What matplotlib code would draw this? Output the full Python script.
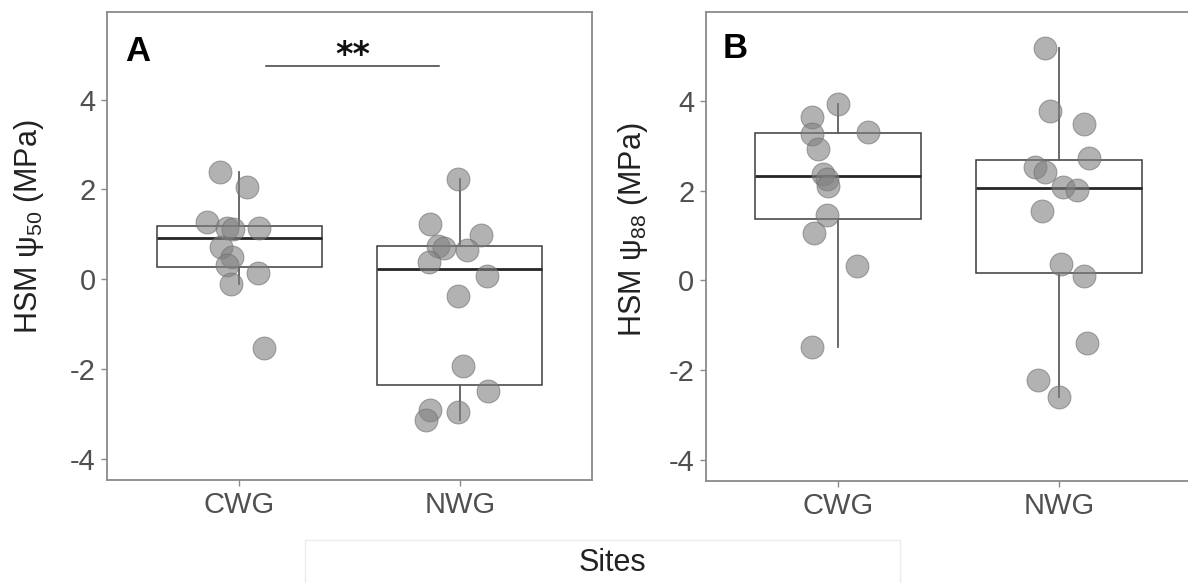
import matplotlib
matplotlib.use("Agg")
import matplotlib.pyplot as plt
from matplotlib.lines import Line2D

plt.rcParams['font.family'] = ['Liberation Sans', 'DejaVu Sans']
plt.rcParams['mathtext.fontset'] = 'custom'
plt.rcParams['mathtext.rm'] = 'Liberation Sans'

# ---- data -------------------------------------------------------------
sites = ['CWG', 'NWG']
y_ticks = [-4, -2, 0, 2, 4]

# Hydraulic safety margin based on psi50 (MPa)
hsm50_cwg = [2.38, 2.05, 1.28, 1.14, 1.12, 1.13, 0.72, 0.50, 0.31, 0.13, -0.10, -1.54]
hsm50_nwg = [2.24, 1.24, 0.99, 0.74, 0.70, 0.64, 0.38, 0.07, -0.37, -1.93, -2.49,
             -2.91, -3.13, -2.95]
# horizontal jitter of each point (in category units)
jit50_cwg = [-0.087, 0.037, -0.145, -0.057, -0.030, 0.090, -0.084, -0.031, -0.054,
             0.083, -0.039, 0.110]
jit50_nwg = [-0.007, -0.134, 0.098, -0.098, -0.070, 0.034, -0.139, 0.125, -0.007,
             0.016, 0.130, -0.134, -0.152, -0.007]

# Hydraulic safety margin based on psi88 (MPa)
hsm88_cwg = [3.93, 3.63, 3.31, 3.26, 2.93, 2.37, 2.26, 2.11, 1.46, 1.06, 0.33, -1.47]
hsm88_nwg = [5.18, 3.76, 3.48, 2.72, 2.53, 2.41, 2.07, 2.02, 1.54, 0.37, 0.09, -1.39,
             -2.21, -2.59]
jit88_cwg = [0.000, -0.120, 0.134, -0.120, -0.093, -0.070, -0.052, -0.048, -0.052,
             -0.111, 0.084, -0.120]
jit88_nwg = [-0.063, -0.041, 0.113, 0.136, -0.109, -0.063, 0.018, 0.081, -0.077,
             0.009, 0.113, 0.127, -0.095, 0.000]

W, H = 1188, 583
fig = plt.figure(figsize=(W / 100, H / 100), dpi=100)


def px_axes(left, top, right, bottom):
    return fig.add_axes([left / W, 1 - bottom / H, (right - left) / W, (bottom - top) / H])


def panel(ax, groups, jitters, ylim):
    ax.boxplot(groups, positions=[1, 2], widths=0.75, whis=1.5,
               showfliers=False, showcaps=False, patch_artist=True,
               boxprops=dict(facecolor='white', edgecolor='#3c3c3c', linewidth=1.1),
               medianprops=dict(color='#262626', linewidth=2.0),
               whiskerprops=dict(color='#5e5e5e', linewidth=1.3),
               zorder=2)
    for i, (vals, jit) in enumerate(zip(groups, jitters)):
        xs = [i + 1 + j for j in jit]
        ax.scatter(xs, vals, s=270, color='#808080', alpha=0.6,
                   edgecolors='#707070', linewidths=0.8, zorder=3)
    ax.set_xlim(0.4, 2.6)
    ax.set_ylim(*ylim)
    ax.set_xticks([1, 2])
    ax.set_xticklabels(sites)
    ax.set_yticks(y_ticks)
    ax.set_yticklabels([str(t) for t in y_ticks])
    for s in ax.spines.values():
        s.set_color('#8a8a8a')
        s.set_linewidth(1.3)
    ax.tick_params(direction='out', length=4, width=1, color='#8a8a8a',
                   labelsize=21, labelcolor='#505050', pad=4)


axA = px_axes(107, 12, 592, 480)
panel(axA, [hsm50_cwg, hsm50_nwg], [jit50_cwg, jit50_nwg], (-4.47, 5.95))
axA.text(0.064, 0.915, 'A', transform=axA.transAxes, fontsize=25,
         fontweight='bold', ha='center', va='center', color='black')
axA.plot([1.121, 1.905], [4.75, 4.75], color='#3c3c3c', lw=1.1)
axA.text(1.513, 4.76, '**', fontsize=24, fontweight='bold', ha='center',
         va='baseline', color='#111111', family=['DejaVu Sans'])

axB = px_axes(705.5, 12, 1192, 481)
panel(axB, [hsm88_cwg, hsm88_nwg], [jit88_cwg, jit88_nwg], (-4.46, 5.97))
axB.text(0.061, 0.923, 'B', transform=axB.transAxes, fontsize=25,
         fontweight='bold', ha='center', va='center', color='black')

# y-axis titles
fig.text(29 / W, 1 - 227 / H, 'HSM ψ$_{\\mathregular{50}}$ (MPa)', rotation=90,
         ha='center', va='center', fontsize=22, color='#222222')
fig.text(633 / W, 1 - 230 / H, 'HSM ψ$_{\\mathregular{88}}$ (MPa)', rotation=90,
         ha='center', va='center', fontsize=22, color='#222222')

# shared x-axis title in a faint frame
fx0, fx1, fy = 305 / W, 900 / W, 1 - 540 / H
for xs, ys in [([fx0, fx1], [fy, fy]), ([fx0, fx0], [0, fy]), ([fx1, fx1], [0, fy])]:
    fig.add_artist(Line2D(xs, ys, transform=fig.transFigure, color='#ececec', lw=1))
fig.text(612 / W, 1 - 563 / H, 'Sites', ha='center', va='center', fontsize=22,
         color='#222222')

fig.savefig('out.png', dpi=100)
